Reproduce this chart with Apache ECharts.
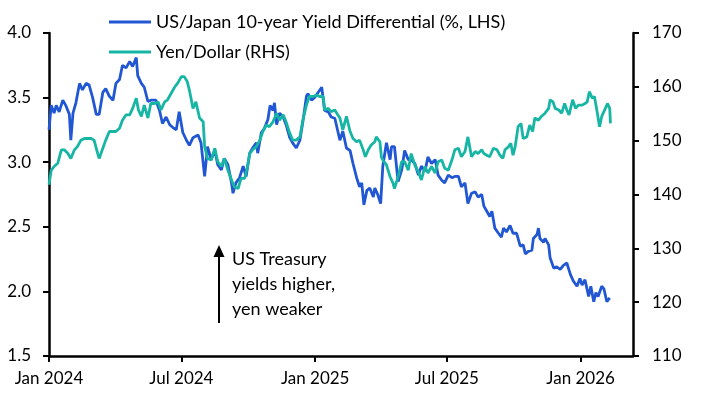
<!DOCTYPE html>
<html><head><meta charset="utf-8">
<script src="https://cdn.jsdelivr.net/npm/echarts@6/dist/echarts.min.js"></script>
<style>html,body{margin:0;padding:0;background:#fff}#c{width:710px;height:395px}</style>
</head><body><div id="c"></div>
<script>
// x values are days since 1 Jan 2024
const AXIS_END_DAY = 803;
const tickDays = [0, 182, 366, 547, 731]; // 1 Jan 2024, 1 Jul 2024, 1 Jan 2025, 1 Jul 2025, 1 Jan 2026
const tickLabels = ['Jan 2024', 'Jul 2024', 'Jan 2025', 'Jul 2025', 'Jan 2026'];
const seriesNames = ['US/Japan 10-year Yield Differential (%, LHS)', 'Yen/Dollar (RHS)'];

const yieldDays = [0,3,7,10,14,19,23,28,30,33,37,42,46,51,55,60,65,69,74,78,83,88,92,97,101,106,111,115,120,122,127,131,136,140,147,152,156,161,166,170,175,179,184,189,193,198,205,209,214,218,223,228,232,237,241,246,251,253,257,262,267,271,276,280,285,287,292,296,301,304,308,310,313,317,322,326,331,335,340,345,349,354,356,361,365,370,375,377,379,384,388,393,395,400,404,409,414,418,423,427,430,433,437,441,446,448,452,456,459,464,469,471,475,480,485,489,494,498,503,508,512,517,521,526,531,535,540,544,549,554,558,563,567,572,576,581,586,590,595,598,602,606,609,613,618,622,625,629,634,638,643,648,652,655,659,664,666,671,673,675,680,682,687,689,694,698,703,707,712,717,721,726,730,733,737,739,742,745,749,752,755,760,763,767,771];
const yieldVals = [3.25,3.44,3.38,3.44,3.39,3.48,3.44,3.37,3.17,3.38,3.46,3.61,3.56,3.61,3.60,3.50,3.37,3.37,3.54,3.57,3.51,3.48,3.61,3.64,3.75,3.73,3.78,3.74,3.81,3.67,3.61,3.58,3.47,3.48,3.48,3.40,3.30,3.35,3.29,3.27,3.25,3.39,3.23,3.17,3.13,3.19,3.21,3.15,2.89,3.12,3.02,3.09,2.98,2.94,3.03,2.98,2.84,2.76,2.84,2.88,2.97,2.89,3.07,3.11,3.15,3.07,3.23,3.26,3.33,3.44,3.40,3.46,3.29,3.38,3.35,3.29,3.19,3.15,3.11,3.17,3.31,3.51,3.53,3.48,3.50,3.54,3.58,3.57,3.40,3.39,3.35,3.34,3.35,3.17,3.24,3.11,3.09,2.99,2.88,2.81,2.84,2.67,2.78,2.80,2.73,2.80,2.75,2.68,2.97,3.15,3.02,3.12,3.12,2.85,2.94,3.09,3.02,3.02,2.99,2.90,2.97,2.93,3.04,2.99,3.02,2.90,2.86,2.84,2.90,2.88,2.89,2.89,2.81,2.84,2.68,2.76,2.77,2.73,2.75,2.66,2.62,2.58,2.62,2.49,2.45,2.42,2.49,2.46,2.51,2.45,2.45,2.35,2.36,2.29,2.31,2.32,2.41,2.44,2.49,2.41,2.38,2.41,2.36,2.26,2.18,2.19,2.17,2.20,2.22,2.13,2.08,2.04,2.10,2.05,2.09,2.09,1.96,2.04,1.92,1.99,1.96,2.04,2.02,1.92,1.95];

const yenDays = [0,3,7,12,17,21,26,30,35,39,44,49,53,58,62,67,69,74,78,83,88,92,97,101,106,111,115,120,123,127,131,136,140,145,150,154,159,163,168,173,177,182,186,190,193,198,202,207,212,214,218,223,228,232,237,241,246,251,255,260,264,269,273,276,280,285,290,294,299,303,308,313,317,322,326,331,335,340,345,349,354,358,363,368,372,377,379,384,388,393,397,400,404,409,414,418,423,427,432,435,439,443,448,450,455,457,459,464,469,473,475,480,485,489,494,498,503,508,512,517,521,526,531,535,540,544,549,554,558,563,567,572,576,581,586,590,595,598,602,606,611,616,620,624,627,632,635,638,641,645,649,652,657,661,665,668,673,677,682,687,689,693,696,701,705,709,712,715,720,724,728,733,737,740,743,747,750,752,754,757,760,765,768,771,772];
const yenVals = [141.8,144.5,145.2,145.8,148.3,148.3,147.6,146.7,148.3,148.9,150.1,150.4,150.4,150.4,150.1,147.6,146.7,148.6,150.1,151.7,151.7,151.7,152.3,153.8,154.8,154.8,156.0,157.9,155.7,154.5,156.6,154.2,156.9,156.9,157.2,155.7,157.2,157.6,158.8,160.0,160.7,161.9,161.9,161.0,159.4,156.0,157.2,154.2,153.5,148.9,146.7,146.4,148.6,146.1,145.2,146.7,144.5,142.7,141.4,141.1,143.0,143.0,145.2,147.6,148.3,148.9,150.1,151.7,152.9,152.6,153.5,155.1,153.8,154.8,153.5,151.4,150.1,150.1,150.7,153.8,156.6,158.2,158.2,158.5,158.2,158.2,155.7,156.0,155.4,155.7,154.8,154.2,152.0,154.5,151.7,150.4,149.8,150.1,148.3,147.0,148.3,149.2,149.8,150.7,149.8,147.0,146.4,145.5,143.3,142.1,141.1,143.3,146.1,146.1,144.5,147.6,145.5,144.2,142.7,145.2,144.0,145.2,144.0,146.1,146.4,144.9,144.5,146.4,148.3,148.6,147.0,148.0,150.7,147.0,148.0,147.6,148.3,147.6,147.3,147.0,148.6,148.3,147.3,146.7,148.3,148.9,149.5,147.3,148.9,152.6,153.2,150.4,150.7,152.9,151.7,154.2,153.8,154.5,155.1,156.0,157.6,157.2,156.0,155.7,155.1,156.9,155.7,154.8,157.6,156.0,156.6,156.6,156.9,157.2,159.1,157.9,158.2,158.5,155.1,152.6,154.5,156.0,156.9,156.0,153.2];

const BLUE = '#2157d3';
const TEAL = '#17b5a4';
const FONT = 'Lato';

function toPairs(days, vals) {
  return days.map((d, i) => [d, vals[i]]);
}

const chart = echarts.init(document.getElementById('c'), null, {renderer: 'canvas'});
const axisLineStyle = {color: '#000', width: 2.5};
chart.setOption({
  animation: false,
  backgroundColor: '#fff',
  textStyle: {fontFamily: FONT},
  grid: {left: 49, right: 77, top: 33, bottom: 39, containLabel: false},
  legend: {
    orient: 'vertical', left: 104, top: 6, itemGap: 8,
    itemWidth: 42, itemHeight: 3, icon: 'rect',
    textStyle: {fontFamily: FONT, fontSize: 18, color: '#000', lineHeight: 22},
    data: seriesNames
  },
  xAxis: {
    type: 'value',
    min: 0, max: AXIS_END_DAY,
    axisLine: {show: true, onZero: false, lineStyle: axisLineStyle},
    axisTick: {show: true, customValues: tickDays, length: 6, lineStyle: {color: '#000', width: 2}},
    axisLabel: {
      customValues: tickDays, color: '#000', fontFamily: FONT, fontSize: 17, margin: 14,
      formatter: function (v) { const i = tickDays.indexOf(v); return i >= 0 ? tickLabels[i] : ''; }
    },
    splitLine: {show: false}, minorTick: {show: false}
  },
  yAxis: [
    {
      type: 'value', min: 1.5, max: 4.0, interval: 0.5, position: 'left',
      axisLine: {show: true, lineStyle: axisLineStyle},
      axisTick: {show: true, length: 6, lineStyle: {color: '#000', width: 2}},
      axisLabel: {color: '#000', fontFamily: FONT, fontSize: 17, margin: 18, formatter: v => v.toFixed(1)},
      splitLine: {show: false}
    },
    {
      type: 'value', min: 110, max: 170, interval: 10, position: 'right',
      axisLine: {show: true, lineStyle: axisLineStyle},
      axisTick: {show: true, length: 6, lineStyle: {color: '#000', width: 2}},
      axisLabel: {color: '#000', fontFamily: FONT, fontSize: 17, margin: 19},
      splitLine: {show: false}
    }
  ],
  series: [
    {
      name: seriesNames[0], type: 'line', yAxisIndex: 0, showSymbol: false, symbol: 'none',
      lineStyle: {color: BLUE, width: 2.8}, itemStyle: {color: BLUE},
      data: toPairs(yieldDays, yieldVals), z: 2
    },
    {
      name: seriesNames[1], type: 'line', yAxisIndex: 1, showSymbol: false, symbol: 'none',
      lineStyle: {color: TEAL, width: 2.8}, itemStyle: {color: TEAL},
      data: toPairs(yenDays, yenVals), z: 3
    }
  ],
  graphic: [
    {type: 'line', shape: {x1: 219, y1: 323, x2: 219, y2: 254}, style: {stroke: '#000', lineWidth: 2}},
    {type: 'polygon', shape: {points: [[213.5, 257], [224.5, 257], [219, 245]]}, style: {fill: '#000'}},
    {type: 'text', left: 232, top: 247, style: {text: 'US Treasury\nyields higher,\nyen weaker', fontFamily: FONT, fontSize: 18, lineHeight: 25, fill: '#000'}}
  ]
});
</script>
</body></html>
